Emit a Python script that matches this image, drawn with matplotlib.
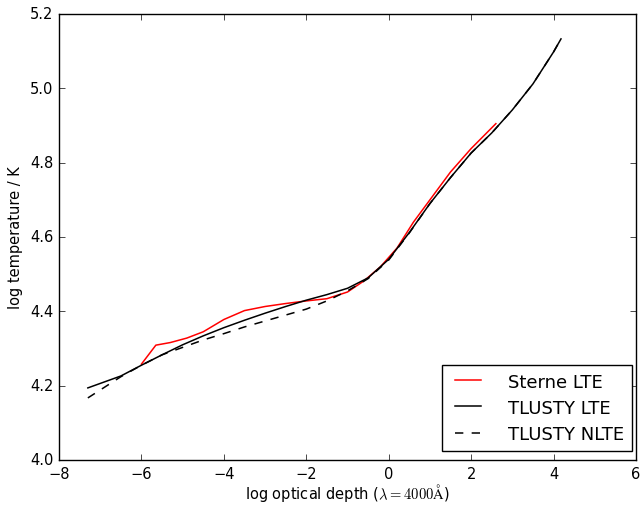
import matplotlib
matplotlib.use("Agg")
import matplotlib.pyplot as plt

plt.style.use("classic")

tlusty_lte_x = [-7.3, -6.5, -6.0, -5.5, -5.0, -4.5, -4.0, -3.5, -3.0, -2.5, -2.0, -1.5, -1.0, -0.5,
                0.0, 0.5, 1.0, 1.5, 2.0, 2.5, 3.0, 3.5, 4.0, 4.18]
tlusty_lte_y = [4.194, 4.226, 4.255, 4.283, 4.310, 4.334, 4.356, 4.376, 4.395, 4.413, 4.430, 4.445,
                4.462, 4.490, 4.540, 4.612, 4.690, 4.760, 4.826, 4.880, 4.942, 5.012, 5.098, 5.133]

tlusty_nlte_x = [-7.3, -6.5, -6.0, -5.5, -5.0, -4.5, -4.0, -3.5, -3.0, -2.5, -2.0, -1.5, -1.0, -0.5,
                 0.0, 0.5, 1.0, 1.5, 2.0, 2.5, 3.0, 3.5, 4.0, 4.18]
tlusty_nlte_y = [4.167, 4.224, 4.255, 4.283, 4.303, 4.323, 4.340, 4.358, 4.374, 4.390, 4.406, 4.428,
                 4.455, 4.488, 4.538, 4.611, 4.690, 4.760, 4.826, 4.880, 4.942, 5.012, 5.098, 5.133]

sterne_x = [-6.0, -5.65, -5.3, -4.9, -4.5, -4.0, -3.5, -3.0, -2.5, -2.0, -1.5, -1.0, -0.6, -0.2,
            0.2, 0.6, 1.0, 1.5, 2.0, 2.6]
sterne_y = [4.258, 4.309, 4.316, 4.328, 4.345, 4.378, 4.402, 4.413, 4.421, 4.428, 4.434, 4.452,
            4.482, 4.520, 4.570, 4.640, 4.700, 4.775, 4.838, 4.905]

plt.rcParams["xtick.labelsize"] = 10.5
plt.rcParams["ytick.labelsize"] = 10.5
plt.rcParams["axes.labelsize"] = 10.5

fig = plt.figure(figsize=(6.41, 5.06), dpi=100, facecolor="white")
ax = fig.add_axes([59 / 641, 45 / 506, 577 / 641, 446 / 506])
ax.plot(sterne_x, sterne_y, color="red", lw=1.1, label="Sterne LTE")
ax.plot(tlusty_lte_x, tlusty_lte_y, color="black", lw=1.1, label="TLUSTY LTE")
ax.plot(tlusty_nlte_x, tlusty_nlte_y, color="black", lw=1.1, ls="--", label="TLUSTY NLTE")
ax.set_xlim(-8, 6)
ax.set_ylim(4.0, 5.2)
ax.set_xlabel(r"log optical depth ($\lambda=4000\mathrm{\AA}$)", labelpad=0)
ax.set_ylabel("log temperature / K", labelpad=5)
ax.legend(loc="lower right", fontsize=13, handlelength=2.0, handletextpad=1.2,
          labelspacing=0.45, borderpad=0.45, borderaxespad=0,
          bbox_to_anchor=(632 / 641, (506 - 452) / 506), bbox_transform=fig.transFigure)
fig.savefig("out.png", dpi=100, facecolor="white")
